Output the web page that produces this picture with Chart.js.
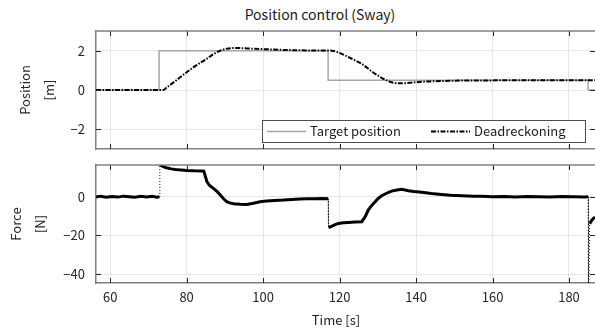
<!DOCTYPE html>
<html>
<head>
<meta charset="utf-8">
<script src="https://cdn.jsdelivr.net/npm/chart.js@4.4.1/dist/chart.umd.min.js"></script>
<style>
  body { margin: 0; background: #fff; overflow: hidden; font-family: 'Noto Sans CJK JP', sans-serif; color: #1a1a1a; }
  .box { position: absolute; left: 0; width: 595px; }
  .label { position: absolute; text-align: center; white-space: nowrap; }
</style>
</head>
<body>
<div class="label" style="left:220px;width:200px;top:4px;font-size:14px;line-height:20px;">Position control (Sway)</div>
<div class="box" style="top:0;height:155px;"><canvas id="posChart"></canvas></div>
<div class="box" style="top:155px;height:177px;"><canvas id="forceChart"></canvas></div>
<div class="label" style="left:276px;width:120px;top:311px;font-size:13px;line-height:18px;">Time [s]</div>
<script>
// time [s] and values
const targetTime = [56.3, 72.8, 72.8, 117.0, 117.0, 185.0, 185.0, 186.8];
const targetPos = [0, 0, 2, 2, 0.5, 0.5, 0, 0];

const deadTime = [56.3, 73.9, 74.8, 77, 80, 82.5, 85.3, 87, 88.8, 90.5, 92, 94, 97, 101, 105, 109.7, 114, 118,
  119.5, 121.4, 123.5, 125.8, 128.4, 131, 133.6, 136.3, 139.7, 143, 147.6, 152, 160.7, 170, 180, 186.8];
const deadPos = [0, 0, 0.13, 0.45, 0.9, 1.25, 1.59, 1.82, 2.0, 2.1, 2.13, 2.13, 2.1, 2.07, 2.04, 2.02, 2.01, 2.0,
  1.92, 1.76, 1.56, 1.33, 0.95, 0.62, 0.39, 0.34, 0.39, 0.43, 0.46, 0.48, 0.49, 0.5, 0.5, 0.5];

const forceTime = [56.3, 57.5, 59, 60.5, 62, 63.5, 65, 66.5, 68, 69.5, 71, 72.2, 72.9,
  73.0, 73.5, 74, 75, 76, 77, 78, 80, 82, 84, 84.5,
  85.3, 86, 87, 88, 88.8, 89.6, 90.5, 91.3, 92.2, 94, 95.7, 97.5, 99.2, 101, 103, 105.3, 107.5, 109.7, 111.5, 113.5, 115.5, 117.0,
  117.1, 118, 119, 119.7, 121, 122.3, 124, 125.8,
  126.7, 127.5, 128.4, 129.3, 130.1, 131, 132.3, 133.6, 135, 136.3, 138, 139.5, 141.5, 144, 146.7, 149, 152, 155, 157.2,
  160, 163, 166, 169, 172, 175, 178, 181, 184, 185.0,
  185.1, 185.4, 186, 186.8];
const forceVal = [-0.2, 0.2, -0.3, 0.1, -0.2, 0.3, 0, -0.3, 0.2, -0.1, 0.2, -0.2, 0,
  16.4, 16, 15.4, 14.8, 14.4, 14.1, 13.9, 13.6, 13.4, 13.3, 13.2,
  7.8, 5.8, 4.3, 2.6, 0.9, -0.9, -2.6, -3.2, -3.6, -3.9, -4, -3.4, -2.6, -2.2, -1.9, -1.7, -1.4, -1.2, -1.1, -1.0, -0.9, -1.0,
  -16, -15.2, -14.3, -13.8, -13.5, -13.3, -13.1, -12.9,
  -10.3, -6.9, -4.5, -2.6, -0.9, 0.5, 1.8, 2.9, 3.5, 3.8, 3.1, 2.7, 2.3, 1.7, 1.2, 0.8, 0.5, 0.3, 0.2,
  0, 0.1, -0.1, 0.1, 0, -0.1, 0.1, 0, -0.1, 0,
  -60, -14, -12, -10.5];

const xTicks = [60, 80, 100, 120, 140, 160, 180];
const posTicks = [-2, 0, 2];
const forceTicks = [-40, -20, 0];

const pts = (xs, ys) => xs.map((x, i) => ({ x: x, y: ys[i] }));
const minus = v => (v < 0 ? '\u2212' + Math.abs(v) : '' + v);

Chart.defaults.font.family = "'Noto Sans CJK JP', sans-serif";
Chart.defaults.color = '#262626';

// MATLAB style box: top edge + inward tick marks on all sides
const boxTicks = {
  id: 'boxTicks',
  afterDraw(chart) {
    const { ctx, chartArea: a, scales: { x, y } } = chart;
    ctx.save();
    ctx.strokeStyle = '#262626';
    ctx.lineWidth = 1;
    ctx.beginPath();
    x.ticks.forEach(t => {
      const px = Math.round(x.getPixelForValue(t.value)) + 0.5;
      ctx.moveTo(px, a.bottom); ctx.lineTo(px, a.bottom - 5);
      ctx.moveTo(px, a.top); ctx.lineTo(px, a.top + 5);
    });
    y.ticks.forEach(t => {
      const py = Math.round(y.getPixelForValue(t.value)) + 0.5;
      ctx.moveTo(a.left, py); ctx.lineTo(a.left + 5, py);
      ctx.moveTo(a.right, py); ctx.lineTo(a.right - 5, py);
    });
    ctx.stroke();
    ctx.strokeStyle = '#808080';
    ctx.lineWidth = 1.5;
    ctx.beginPath();
    ctx.moveTo(a.left, a.top); ctx.lineTo(a.right, a.top);
    ctx.stroke();
    ctx.restore();
  }
};

// legend box in the lower right of the position axes
const boxLegend = {
  id: 'boxLegend',
  afterDraw(chart, args, opts) {
    const { ctx } = chart;
    ctx.save();
    ctx.fillStyle = '#fff';
    ctx.fillRect(opts.x, opts.y, opts.w, opts.h);
    ctx.strokeStyle = '#4d4d4d';
    ctx.lineWidth = 1;
    ctx.strokeRect(opts.x + 0.5, opts.y + 0.5, opts.w, opts.h);
    const cy = opts.y + opts.h / 2 + 0.5;
    ctx.font = "13px 'Noto Sans CJK JP', sans-serif";
    ctx.textBaseline = 'middle';
    chart.data.datasets.forEach((ds, i) => {
      const x0 = opts.items[i];
      ctx.strokeStyle = ds.borderColor;
      ctx.lineWidth = ds.borderWidth;
      ctx.setLineDash(ds.borderDash || []);
      ctx.beginPath();
      ctx.moveTo(x0, cy); ctx.lineTo(x0 + 39, cy);
      ctx.stroke();
      ctx.setLineDash([]);
      ctx.fillStyle = '#1a1a1a';
      ctx.fillText(ds.label, x0 + 43, cy);
    });
    ctx.restore();
  }
};

function xScale(height) {
  return {
    type: 'linear',
    min: 56.3,
    max: 186.8,
    afterBuildTicks: s => { s.ticks = xTicks.map(v => ({ value: v })); },
    afterFit: s => { s.height = height; s.paddingLeft = 0; s.paddingRight = 0; },
    grid: { color: '#e6e6e6', drawTicks: false },
    border: { color: '#808080', width: 1.5 },
    ticks: { display: height > 20, padding: 6, font: { size: 13 } }
  };
}

function yScale(min, max, ticks, title, titlePad) {
  return {
    type: 'linear',
    min: min,
    max: max,
    afterBuildTicks: s => { s.ticks = ticks.map(v => ({ value: v })); },
    afterFit: s => { s.width = 96; s.paddingTop = 0; s.paddingBottom = 0; },
    grid: { color: '#e6e6e6', drawTicks: false },
    border: { color: '#808080', width: 1.5 },
    ticks: { padding: 11, font: { size: 13 }, callback: minus },
    title: { display: true, text: title, padding: { top: titlePad, bottom: 0 }, font: { size: 13, lineHeight: '24px' } }
  };
}

new Chart(document.getElementById('posChart'), {
  type: 'line',
  data: {
    datasets: [{
      label: 'Target position',
      data: pts(targetTime, targetPos),
      borderColor: '#a6a6a6',
      borderWidth: 1.5,
      order: 1
    }, {
      label: 'Deadreckoning',
      data: pts(deadTime, deadPos),
      borderColor: '#000',
      borderWidth: 2,
      borderDash: [5, 1.5, 1.5, 1.5],
      cubicInterpolationMode: 'monotone',
      order: 0
    }]
  },
  options: {
    responsive: true,
    maintainAspectRatio: false,
    animation: false,
    layout: { padding: { top: 31, left: 0, right: 0, bottom: 0 } },
    elements: { point: { radius: 0 } },
    scales: { x: xScale(6), y: yScale(-3, 3, posTicks, ['Position', '[m]'], 13) },
    plugins: {
      legend: { display: false },
      tooltip: { enabled: false },
      boxLegend: { x: 262, y: 120, w: 323, h: 22, items: [267, 431] }
    }
  },
  plugins: [boxTicks, boxLegend]
});

const jump = ctx => ctx.p1.parsed.x - ctx.p0.parsed.x < 0.35 && Math.abs(ctx.p1.parsed.y - ctx.p0.parsed.y) > 4;

new Chart(document.getElementById('forceChart'), {
  type: 'line',
  data: {
    datasets: [{
      label: 'Force',
      data: pts(forceTime, forceVal),
      borderColor: '#000',
      borderWidth: 3,
      segment: {
        borderDash: ctx => (jump(ctx) ? [1, 2] : undefined),
        borderWidth: ctx => (jump(ctx) ? 1 : undefined)
      }
    }]
  },
  options: {
    responsive: true,
    maintainAspectRatio: false,
    animation: false,
    layout: { padding: { top: 10, left: 0, right: 0, bottom: 0 } },
    elements: { point: { radius: 0 } },
    scales: { x: xScale(49), y: yScale(-44.6, 16.4, forceTicks, ['Force', '[N]'], 4.5) },
    plugins: {
      legend: { display: false },
      tooltip: { enabled: false }
    }
  },
  plugins: [boxTicks]
});
</script>
</body>
</html>
